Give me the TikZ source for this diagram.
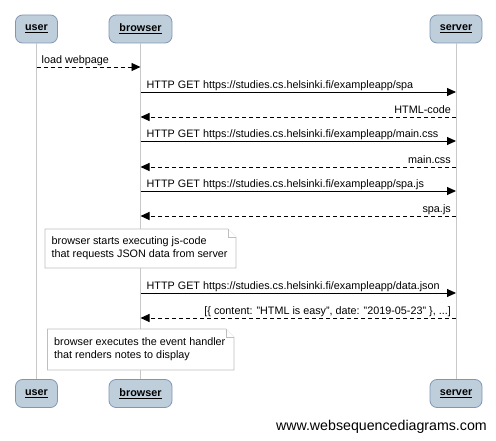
\documentclass[tikz,border=0pt]{standalone}
\usepackage{fontspec}
\setmainfont{Liberation Sans}
\usetikzlibrary{arrows.meta}
\definecolor{actfill}{RGB}{190,206,219}
\definecolor{actdraw}{RGB}{130,150,180}
\definecolor{lifegray}{RGB}{200,200,200}
\definecolor{notedraw}{RGB}{190,190,190}
\tikzset{
  actor/.style={draw=actdraw, fill=actfill, rounded corners=7pt, line width=0.8pt, minimum height=28pt, inner sep=0pt, font=\fontsize{10.8}{13}\selectfont\bfseries},
  lifeline/.style={draw=lifegray, line width=0.8pt},
  msg/.style={draw=black, line width=0.9pt, -{Triangle[length=9pt,width=8pt]}},
  reply/.style={msg, dash pattern=on 4pt off 3pt},
  lbl/.style={font=\fontsize{10.8}{13}\selectfont, inner sep=0pt},
  notebox/.style={draw=notedraw, fill=white, line width=0.7pt},
  notetext/.style={font=\fontsize{10.8}{13}\selectfont, align=left, anchor=west, inner sep=0pt}
}
\begin{document}
\begin{tikzpicture}[x=1pt,y=-1pt]
\useasboundingbox (0,0) rectangle (496,441);
% actors
\node[actor, minimum width=42pt] (ut) at (36.5,29) {\underline{user}};
\node[actor, minimum width=63pt] (bt) at (140.5,29) {\underline{browser}};
\node[actor, minimum width=52pt] (st) at (456,29) {\underline{server}};
\node[actor, minimum width=42pt] (ub) at (36.5,393.5) {\underline{user}};
\node[actor, minimum width=63pt] (bb) at (140.5,393.5) {\underline{browser}};
\node[actor, minimum width=52pt] (sb) at (456,393.5) {\underline{server}};
% lifelines
\draw[lifeline] (ut) -- (ub);
\draw[lifeline] (bt) -- (bb);
\draw[lifeline] (st) -- (sb);
% message coordinates
\foreach \n/\y in {1/67,2/92,3/117,4/141,5/167,6/191,7/216,8/293,9/318}{
  \coordinate (u\n) at (36.5,\y);
  \coordinate (b\n) at (140.5,\y);
  \coordinate (s\n) at (456,\y);
}
% messages
\draw[reply] (u1) -- (b1);
\node[lbl, anchor=base west] (l1) at ([xshift=5pt,yshift=3.5pt]u1) {load webpage};
\draw[msg] (b2) -- (s2);
\node[lbl, anchor=base west] (l2) at ([xshift=6pt,yshift=3.5pt]b2) {HTTP GET https://studies.cs.helsinki.fi/exampleapp/spa};
\draw[reply] (s3) -- (b3);
\node[lbl, anchor=base east] (l3) at ([xshift=-5pt,yshift=3.5pt]s3) {HTML-code};
\draw[msg] (b4) -- (s4);
\node[lbl, anchor=base west] (l4) at ([xshift=6pt,yshift=3.5pt]b4) {HTTP GET https://studies.cs.helsinki.fi/exampleapp/main.css};
\draw[reply] (s5) -- (b5);
\node[lbl, anchor=base east] (l5) at ([xshift=-5pt,yshift=3.5pt]s5) {main.css};
\draw[msg] (b6) -- (s6);
\node[lbl, anchor=base west] (l6) at ([xshift=6pt,yshift=3.5pt]b6) {HTTP GET https://studies.cs.helsinki.fi/exampleapp/spa.js};
\draw[reply] (s7) -- (b7);
\node[lbl, anchor=base east] (l7) at ([xshift=-5pt,yshift=3.5pt]s7) {spa.js};
\draw[msg] (b8) -- (s8);
\node[lbl, anchor=base west] (l8) at ([xshift=6pt,yshift=3.5pt]b8) {HTTP GET https://studies.cs.helsinki.fi/exampleapp/data.json};
\draw[reply] (s9) -- (b9);
\node[lbl, anchor=base east] (l9) at ([xshift=-5pt,yshift=3.5pt]s9) {[\{ content: "HTML is easy", date: "2019-05-23" \}, ...]};
% note 1
\draw[notebox] (45,229) -- (228,229) -- (236,237) -- (236,268) -- (45,268) -- cycle;
\draw[notebox] (228,229) -- (228,237) -- (236,237);
\node[notetext] (n1) at (51.5,248.5) {browser starts executing js-code\\that requests JSON data from server};
% note 2
\draw[notebox] (47.5,329) -- (226,329) -- (234,337) -- (234,370) -- (47.5,370) -- cycle;
\draw[notebox] (226,329) -- (226,337) -- (234,337);
\node[notetext] (n2) at (54,349.5) {browser executes the event handler\\that renders notes to display};
% footer
\node[font=\fontsize{14.2}{16}\selectfont, anchor=east, inner sep=0pt] (ft) at (487,427) {www.websequencediagrams.com};
\end{tikzpicture}
\end{document}
